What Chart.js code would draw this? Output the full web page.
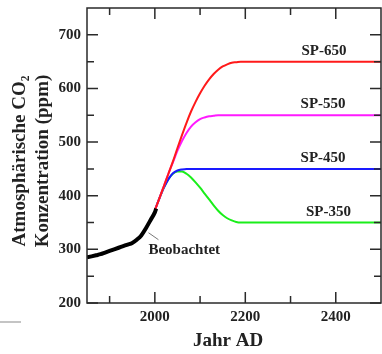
<!DOCTYPE html>
<html>
<head>
<meta charset="utf-8">
<script src="https://cdn.jsdelivr.net/npm/chart.js@4.4.0/dist/chart.umd.min.js"></script>
<style>
  html, body { margin: 0; padding: 0; background: #fff; }
  #wrap { width: 382px; height: 354px; position: relative; }
</style>
</head>
<body>
<div id="wrap"><canvas id="co2Canvas" width="382" height="354"></canvas></div>
<script>
// observed record
var obsYears = [1850, 1860, 1870, 1880, 1890, 1900, 1910, 1920, 1930, 1940, 1950, 1960, 1970, 1980, 1990, 2000, 2003];
var obsPpm   = [285, 287, 289, 291, 294, 297, 300, 303, 306, 309, 312, 318, 326, 339, 354, 369, 376];

// stabilisation scenarios
var sp650Years = [2000, 2010, 2020, 2030, 2040, 2050, 2060, 2070, 2080, 2090, 2100, 2110, 2120, 2130, 2140, 2150, 2160, 2170, 2180, 2190, 2200, 2500];
var sp650Ppm   = [373, 395, 418, 441, 464, 489, 513, 536, 557, 575, 591, 605, 617, 627, 635, 641, 645, 648, 649, 650, 650, 650];

var sp550Years = [2000, 2010, 2020, 2030, 2040, 2050, 2060, 2070, 2080, 2090, 2100, 2110, 2120, 2130, 2140, 2500];
var sp550Ppm   = [373, 395, 418, 441, 462, 484, 502, 517, 529, 537, 543, 546, 548, 549, 550, 550];

var sp450Years = [2000, 2010, 2020, 2030, 2040, 2050, 2060, 2070, 2500];
var sp450Ppm   = [373, 395, 415, 431, 442, 447, 449, 450, 450];

var sp350Years = [2000, 2010, 2020, 2030, 2040, 2050, 2060, 2070, 2080, 2090, 2100, 2110, 2120, 2130, 2140, 2150, 2160, 2170, 2180, 2190, 2200, 2500];
var sp350Ppm   = [373, 395, 415, 431, 441, 445, 445, 441, 434, 425, 415, 404, 393, 382, 372, 364, 358, 354, 351, 350, 350, 350];

var xTickValues = [2000, 2200, 2400];
var xMinorValues = [1900, 2100, 2300];
var yTickValues = [200, 300, 400, 500, 600, 700];
var yMinorValues = [250, 350, 450, 550, 650];

// labels placed in data coordinates
var scenarioLabels = ['SP-650', 'SP-550', 'SP-450', 'SP-350'];
var labelYears = [2374, 2372, 2372, 2384];
var labelPpm   = [669, 570, 470, 370];

function toPoints(xs, ys) {
    var pts = [];
    for (var i = 0; i < xs.length; i++) pts.push({ x: xs[i], y: ys[i] });
    return pts;
}

var serif = '"Liberation Serif", "Times New Roman", serif';
var axisColor = '#2a2a2a';

function lineSet(label, xs, ys, color, width) {
    return {
        label: label,
        data: toPoints(xs, ys),
        borderColor: color,
        backgroundColor: color,
        borderWidth: width,
        pointRadius: 0,
        cubicInterpolationMode: 'monotone',
        fill: false
    };
}

var frame = {
    id: 'frame',
    afterDatasetsDraw: function(chart) {
        var c = chart.ctx, a = chart.chartArea;
        var xs = chart.scales.x, ys = chart.scales.y;
        c.save();
        c.strokeStyle = axisColor;
        c.lineWidth = 1.5;
        c.strokeRect(a.left, a.top, a.right - a.left, a.bottom - a.top);

        // inward ticks on all four sides
        function xTick(v, len) {
            var p = xs.getPixelForValue(v);
            c.beginPath();
            c.moveTo(p, a.bottom); c.lineTo(p, a.bottom - len);
            c.moveTo(p, a.top); c.lineTo(p, a.top + len);
            c.stroke();
        }
        function yTick(v, len) {
            var p = ys.getPixelForValue(v);
            c.beginPath();
            c.moveTo(a.left, p); c.lineTo(a.left + len, p);
            c.moveTo(a.right, p); c.lineTo(a.right - len, p);
            c.stroke();
        }
        xTickValues.forEach(function(v) { xTick(v, 11); });
        xMinorValues.forEach(function(v) { xTick(v, 7); });
        yTickValues.forEach(function(v) { yTick(v, 11); });
        yMinorValues.forEach(function(v) { yTick(v, 7); });

        // scenario names
        c.fillStyle = '#222';
        c.font = 'bold 15px ' + serif;
        c.textAlign = 'center';
        c.textBaseline = 'middle';
        for (var i = 0; i < scenarioLabels.length; i++) {
            c.fillText(scenarioLabels[i], xs.getPixelForValue(labelYears[i]), ys.getPixelForValue(labelPpm[i]));
        }
        c.fillText('Beobachtet', xs.getPixelForValue(2065), ys.getPixelForValue(298));

        // pointer to observed curve
        c.strokeStyle = '#777';
        c.lineWidth = 1;
        c.beginPath();
        c.moveTo(xs.getPixelForValue(1986), ys.getPixelForValue(331));
        c.lineTo(xs.getPixelForValue(2008), ys.getPixelForValue(318));
        c.stroke();

        // axis titles
        c.fillStyle = '#222';
        c.font = 'bold 19px ' + serif;
        c.fillText('Jahr AD', 228, 341);
        c.save();
        c.translate(20, 161);
        c.rotate(-Math.PI / 2);
        c.fillText('Atmosphärische CO₂', 0, 0);
        c.restore();
        c.save();
        c.translate(43, 161);
        c.rotate(-Math.PI / 2);
        c.fillText('Konzentration (ppm)', 0, 0);
        c.restore();

        // stray grey bar bottom left
        c.fillStyle = '#c4c4c4';
        c.fillRect(0, 321, 21, 2);
        c.restore();
    }
};

function noPad(s) {
    s.paddingTop = 0; s.paddingBottom = 0; s.paddingLeft = 0; s.paddingRight = 0;
}

var ctx = document.getElementById('co2Canvas');
var co2Chart = new Chart(ctx, {
    type: 'line',
    data: {
        datasets: [
            lineSet('Beobachtet', obsYears, obsPpm, '#000000', 4),
            lineSet('SP-650', sp650Years, sp650Ppm, '#ff1a1a', 2),
            lineSet('SP-550', sp550Years, sp550Ppm, '#ff1aff', 2),
            lineSet('SP-450', sp450Years, sp450Ppm, '#1a1aff', 2),
            lineSet('SP-350', sp350Years, sp350Ppm, '#1aee1a', 2)
        ]
    },
    options: {
        responsive: false,
        animation: false,
        layout: { padding: { left: 0, top: 8, right: 1, bottom: 0 } },
        plugins: { legend: { display: false }, tooltip: { enabled: false } },
        scales: {
            x: {
                type: 'linear',
                min: 1850,
                max: 2500,
                grid: { display: false, drawTicks: false },
                border: { display: false },
                afterBuildTicks: function(s) { s.ticks = xTickValues.map(function(v) { return { value: v }; }); },
                afterFit: function(s) { s.height = 51; noPad(s); },
                ticks: {
                    padding: 5, color: '#222', maxRotation: 0,
                    font: { family: serif, size: 15, weight: 'bold' },
                    callback: function(v) { return String(v); }
                }
            },
            y: {
                min: 200,
                max: 750,
                grid: { display: false, drawTicks: false },
                border: { display: false },
                afterBuildTicks: function(s) { s.ticks = yTickValues.map(function(v) { return { value: v }; }); },
                afterFit: function(s) { s.width = 87; noPad(s); },
                ticks: {
                    padding: 6, color: '#222',
                    font: { family: serif, size: 15, weight: 'bold' },
                    callback: function(v) { return String(v); }
                }
            }
        }
    },
    plugins: [frame]
});
</script>
</body>
</html>
